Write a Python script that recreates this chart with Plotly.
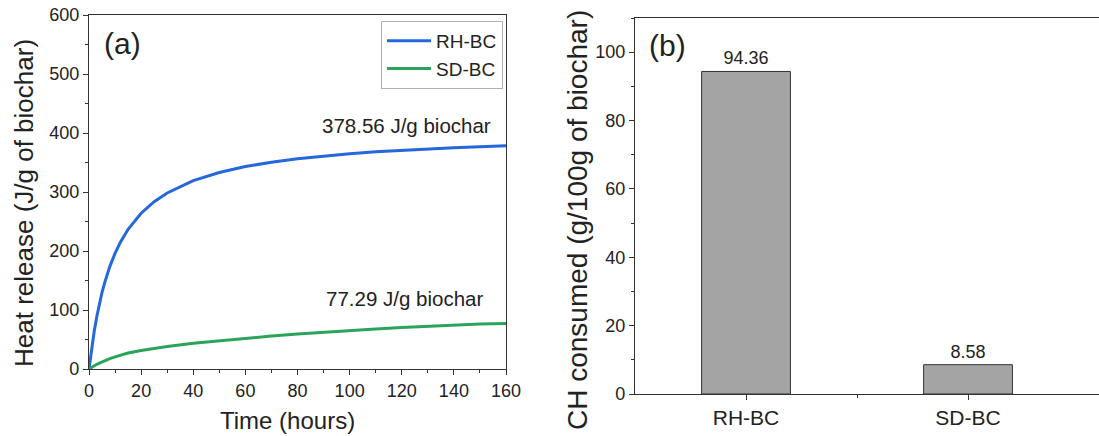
import plotly.graph_objects as go

# ---------------- data ----------------
time_h = [0, 1, 2, 3, 4, 5, 6, 8, 10, 12, 15, 20, 25, 30, 40, 50, 60, 70, 80, 90,
          100, 110, 120, 130, 140, 150, 160]
rh_bc = [0, 35, 64, 89, 111, 130, 146, 174, 196, 214.5, 236.7, 264, 283.6, 298.4,
         319.2, 333.1, 343.1, 350.6, 356.4, 361.1, 364.9, 368.1, 370.8, 373.2,
         375.2, 376.9, 378.56]
sd_bc = [0, 3, 5.5, 8, 10, 12, 13.8, 17.5, 20.5, 23.3, 27, 31.5, 35.2, 38.3, 43.5,
         48, 52, 55.8, 59.3, 62.5, 65.4, 68, 70.5, 72.7, 74.8, 76.3, 77.29]
series_names = ["RH-BC", "SD-BC"]

categories = ["RH-BC", "SD-BC"]
ch_consumed = [94.36, 8.58]

x_ticks_a = [0, 20, 40, 60, 80, 100, 120, 140, 160]
y_ticks_a = [0, 100, 200, 300, 400, 500, 600]
y_ticks_b = [0, 20, 40, 60, 80, 100]

# ---------------- figure ----------------
FONT = "Liberation Sans, Arial, sans-serif"
AX = "#333333"
W, H = 1099, 436

fig = go.Figure()
fig.add_trace(go.Scatter(x=time_h, y=rh_bc, mode="lines", name=series_names[0],
                         line=dict(color="#2468dc", width=3), xaxis="x", yaxis="y"))
fig.add_trace(go.Scatter(x=time_h, y=sd_bc, mode="lines", name=series_names[1],
                         line=dict(color="#2ca35a", width=3), xaxis="x", yaxis="y"))

xpos = list(range(len(categories)))
fig.add_trace(go.Bar(x=xpos, y=ch_consumed, width=0.4, showlegend=False,
                     marker=dict(color="#a4a4a4", line=dict(color="#333333", width=1)),
                     text=[f"{v:.2f}" for v in ch_consumed], textposition="outside",
                     textfont=dict(size=18, color="#222"), cliponaxis=False,
                     xaxis="x2", yaxis="y2"))


def common(size):
    return dict(showline=True, linecolor=AX, linewidth=1.3, ticks="outside",
                ticklen=5, tickwidth=1.2, tickcolor=AX, showgrid=False, zeroline=False,
                automargin=False,
                tickfont=dict(size=size, color="#222", family=FONT))


def label(text, x, y, size, angle=0, anchor="center"):
    return dict(text=text, x=x / W, y=1 - y / H, xref="paper", yref="paper",
                xanchor=anchor, yanchor="middle", showarrow=False, textangle=angle,
                font=dict(size=size, color="#222", family=FONT))


fig.update_layout(
    width=W, height=H, margin=dict(l=0, r=0, t=0, b=0, autoexpand=False),
    paper_bgcolor="white", plot_bgcolor="white",
    font=dict(family=FONT, color="#222"),
    xaxis=dict(domain=[89 / W, 506 / W], range=[0, 160], tickvals=x_ticks_a,
               mirror=True, anchor="y",
               minor=dict(dtick=10, ticks="outside", ticklen=3, tickcolor=AX),
               **common(18)),
    yaxis=dict(domain=[1 - 369 / H, 1 - 15 / H], range=[0, 600], tickvals=y_ticks_a,
               mirror=True, anchor="x",
               minor=dict(dtick=50, ticks="outside", ticklen=3, tickcolor=AX),
               **common(18)),
    xaxis2=dict(domain=[635 / W, 1.0], range=[-0.5, 1.59], tickvals=xpos,
                ticktext=categories, mirror=True, anchor="y2",
                minor=dict(tickvals=[0.5], ticks="outside", ticklen=3, tickcolor=AX),
                **common(21)),
    yaxis2=dict(domain=[1 - 394 / H, 1 - 18 / H], range=[0, 110], tickvals=y_ticks_b,
                mirror=False, anchor="x2",
                minor=dict(dtick=10, ticks="outside", ticklen=3, tickcolor=AX),
                **common(18)),
    legend=dict(x=381 / W, y=1 - 21 / H, xanchor="left", yanchor="top",
                bgcolor="white", bordercolor="#b0b0b0", borderwidth=1,
                font=dict(size=19, color="#222"), tracegroupgap=0,
                itemwidth=44),
    annotations=[
        label("Time (hours)", 287, 420, 24),
        label("Heat release (J/g of biochar)", 24, 203, 26, angle=-90),
        label("CH consumed (g/100g of biochar)", 577, 220, 28, angle=-90),
        label("(a)", 102, 43, 30, anchor="left"),
        label("(b)", 647, 45, 30, anchor="left"),
        dict(text="378.56 J/g biochar", x=155, y=412, xref="x", yref="y",
             xanchor="right", yanchor="middle", showarrow=False,
             font=dict(size=20.5)),
        dict(text="77.29 J/g biochar", x=152, y=119, xref="x", yref="y",
             xanchor="right", yanchor="middle", showarrow=False,
             font=dict(size=20.5)),
    ],
)

fig.write_html("out.html", post_script="document.body.style.margin='0';")
